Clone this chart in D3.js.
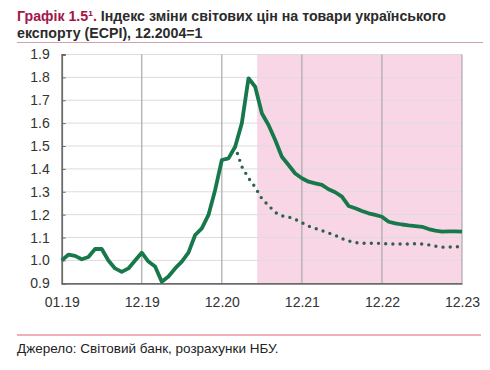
<!DOCTYPE html>
<html>
<head>
<meta charset="utf-8">
<script src="https://cdn.jsdelivr.net/npm/d3@7"></script>
<style>
  body { margin: 0; background: #fff; }
  text { font-family: "Liberation Sans", Arial, sans-serif; }
</style>
</head>
<body>
<script>
// ECPI, monthly index from 01.19, 12.2004=1
var ecpi = [1.00, 1.025, 1.02, 1.005, 1.015, 1.05, 1.05, 1.00, 0.965, 0.95, 0.965, 1.00,
  1.034, 0.995, 0.973, 0.907, 0.93, 0.965, 0.995, 1.034, 1.111, 1.14, 1.199, 1.308,
  1.439, 1.446, 1.497, 1.60, 1.796, 1.759, 1.643, 1.592, 1.526, 1.453, 1.417, 1.38,
  1.359, 1.344, 1.337, 1.33, 1.311, 1.298, 1.279, 1.238, 1.228, 1.216, 1.206, 1.199,
  1.191, 1.169, 1.162, 1.157, 1.153, 1.15, 1.147, 1.137, 1.13, 1.126, 1.127, 1.127, 1.126];
// alternative path (dotted), starting at month index 26
var altStart = 26;
var ecpiAlt = [1.497, 1.41, 1.36, 1.32, 1.27, 1.24, 1.21, 1.195, 1.19, 1.18,
  1.165, 1.15, 1.14, 1.13, 1.12, 1.11, 1.095, 1.085, 1.078, 1.075, 1.075, 1.075,
  1.074, 1.072, 1.072, 1.072, 1.072, 1.073, 1.072, 1.068, 1.062, 1.058, 1.058, 1.06, 1.06];
var xTickPos = [0, 12, 24, 36, 48, 60];
var xTickLabels = ["01.19", "12.19", "12.20", "12.21", "12.22", "12.23"];
var yTicks = [0.9, 1.0, 1.1, 1.2, 1.3, 1.4, 1.5, 1.6, 1.7, 1.8, 1.9];
var shadeFrom = 29.3;

var W = 490, H = 370;
var svg = d3.select("body").append("svg")
  .attr("width", W)
  .attr("height", H);

var x = d3.scaleLinear().domain([0, 60]).range([61.7, 462]);
var y = d3.scaleLinear().domain([0.9, 1.9]).range([283.3, 54.5]);

// title
var title = svg.append("text")
  .attr("x", 17).attr("y", 21)
  .attr("font-size", "14.2px").attr("font-weight", "bold").attr("fill", "#2b2b2b");
title.append("tspan").attr("fill", "#a3154b").text("Графік 1.5¹.");
title.append("tspan").text(" Індекс зміни світових цін на товари українського");
svg.append("text")
  .attr("x", 17).attr("y", 38)
  .attr("font-size", "14.2px").attr("font-weight", "bold").attr("fill", "#2b2b2b")
  .text("експорту (ECPI), 12.2004=1");

svg.append("line")
  .attr("x1", 17).attr("x2", 483).attr("y1", 42.5).attr("y2", 42.5)
  .attr("stroke", "#c9a3b3").attr("stroke-width", 1.2);

// forecast shade
svg.append("rect")
  .attr("x", x(shadeFrom)).attr("y", y(1.9))
  .attr("width", x(60) - x(shadeFrom))
  .attr("height", y(0.9) - y(1.9))
  .attr("fill", "#f9d6e6");

// horizontal grid
svg.append("g").selectAll("line")
  .data(yTicks.slice(1))
  .enter().append("line")
  .attr("x1", x(0)).attr("x2", x(60))
  .attr("y1", function(d) { return y(d); })
  .attr("y2", function(d) { return y(d); })
  .attr("stroke", "#dcdcdc").attr("stroke-width", 1);

// vertical grid
svg.append("g").selectAll("line")
  .data(xTickPos.slice(1))
  .enter().append("line")
  .attr("x1", function(d) { return x(d); })
  .attr("x2", function(d) { return x(d); })
  .attr("y1", y(1.9)).attr("y2", y(0.9))
  .attr("stroke", "#a9a9a9").attr("stroke-width", 1.2);

// axes
var yAxis = d3.axisLeft(y).tickValues(yTicks).tickSize(-4).tickPadding(12)
  .tickFormat(d3.format(".1f"));
var gy = svg.append("g").attr("transform", "translate(" + x(0) + ",0)").call(yAxis);
var xAxis = d3.axisBottom(x).tickValues(xTickPos).tickSize(0).tickPadding(14)
  .tickFormat(function(d, i) { return xTickLabels[i]; });
var gx = svg.append("g").attr("transform", "translate(0," + y(0.9) + ")").call(xAxis);

[gx, gy].forEach(function(g) {
  g.select(".domain").attr("stroke", "#6b6b6b").attr("stroke-width", 1.8);
  g.selectAll(".tick line").attr("stroke", "#6b6b6b");
  g.selectAll(".tick text").attr("font-size", "14px").attr("fill", "#333")
    .style("font-family", "'Liberation Sans', Arial, sans-serif");
});

var line = d3.line()
  .x(function(d) { return x(d[0]); })
  .y(function(d) { return y(d[1]); });

svg.append("path")
  .datum(ecpiAlt.map(function(v, i) { return [altStart + i, v]; }))
  .attr("d", line)
  .attr("fill", "none")
  .attr("stroke", "#2c624a")
  .attr("stroke-width", 3.4)
  .attr("stroke-linecap", "round")
  .attr("stroke-dasharray", "0,7.2");

svg.append("path")
  .datum(ecpi.map(function(v, i) { return [i, v]; }))
  .attr("d", line)
  .attr("fill", "none")
  .attr("stroke", "#17794b")
  .attr("stroke-width", 3.8)
  .attr("stroke-linejoin", "round");

// source
svg.append("line")
  .attr("x1", 17).attr("x2", 481).attr("y1", 335).attr("y2", 335)
  .attr("stroke", "#e0636f").attr("stroke-width", 1.2);
svg.append("text")
  .attr("x", 17).attr("y", 353)
  .attr("font-size", "13.5px").attr("fill", "#222")
  .text("Джерело: Світовий банк, розрахунки НБУ.");
</script>
</body>
</html>
